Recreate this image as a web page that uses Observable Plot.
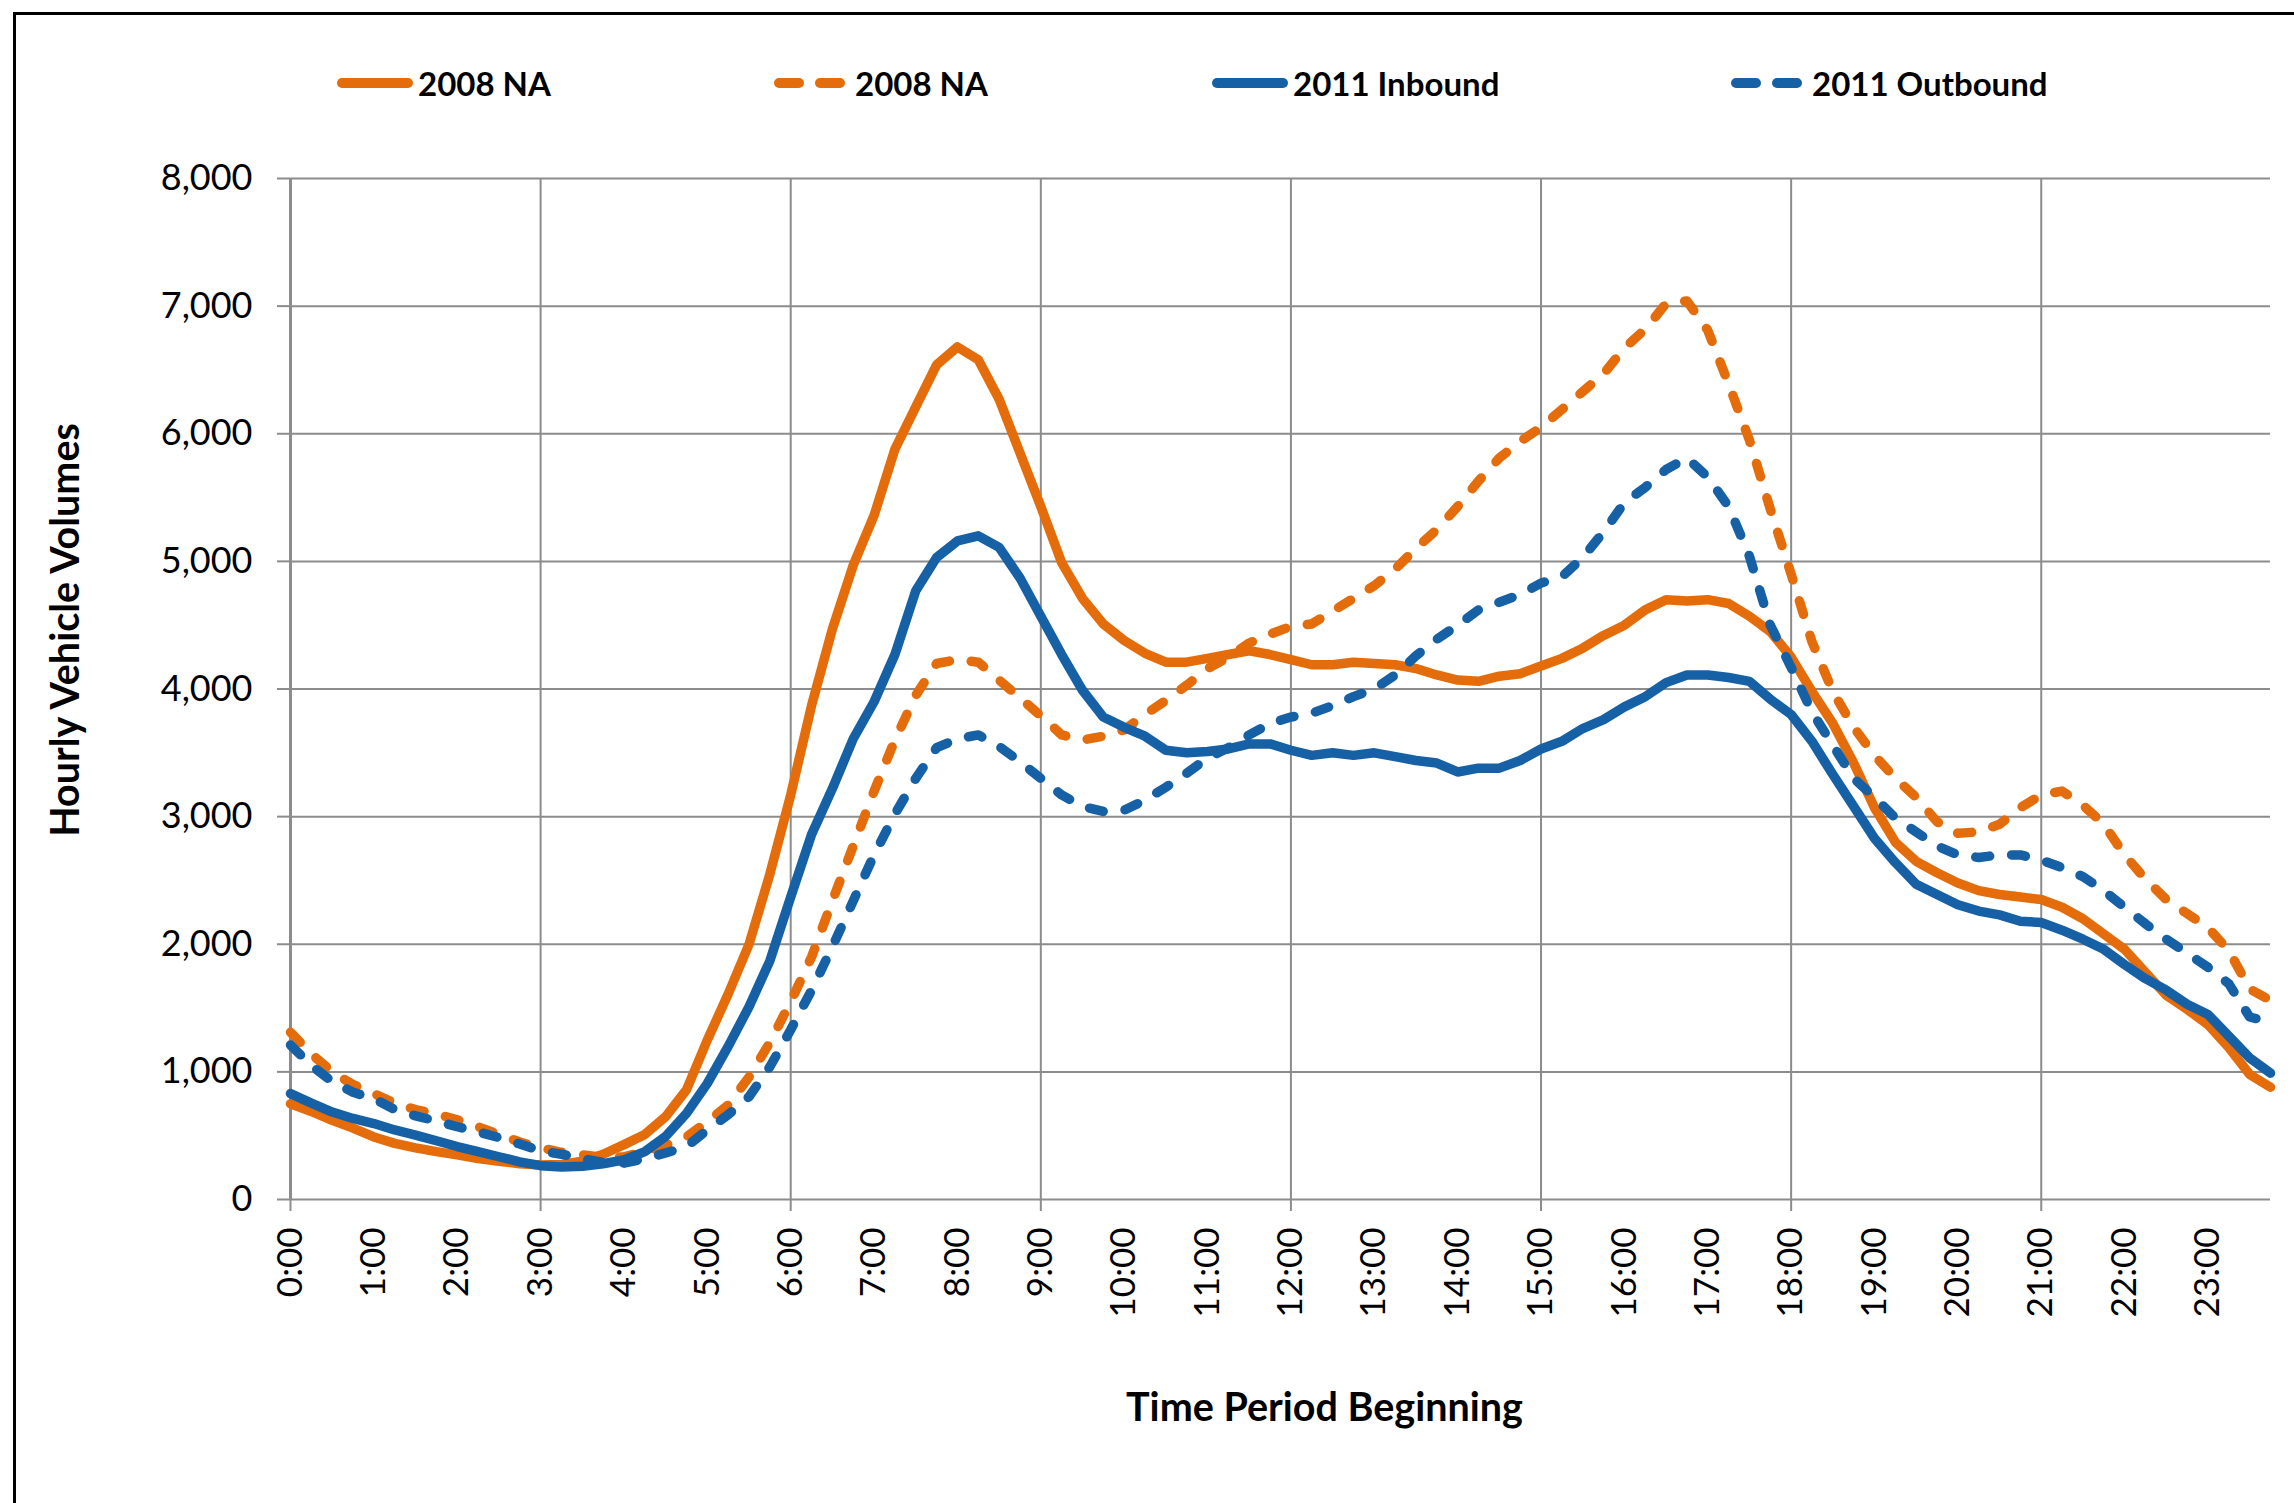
<!DOCTYPE html>
<html><head><meta charset="utf-8">
<script src="https://cdn.jsdelivr.net/npm/d3@7"></script>
<script src="https://cdn.jsdelivr.net/npm/@observablehq/plot@0.6"></script>
<style>
html,body{margin:0;padding:0;background:#fff;}
body{width:2294px;height:1503px;overflow:hidden;position:relative;font-family:Lato,"Open Sans",sans-serif;}
#frame{position:absolute;left:13px;top:12px;width:2400px;height:1600px;border-left:3px solid #000;border-top:3px solid #000;pointer-events:none;z-index:10;}
#legend{position:relative;height:150px;}
.item{position:absolute;top:59px;height:48px;display:flex;align-items:center;font-weight:700;font-size:33px;color:#000;white-space:nowrap;}
.item svg{margin-right:5px;display:block;}
#chart{position:relative;}
</style></head><body>
<div id="frame"></div>
<div id="legend"></div>
<div id="chart"></div>
<script>
// ---- categories & tick labels ----
const hours = [0,1,2,3,4,5,6,7,8,9,10,11,12,13,14,15,16,17,18,19,20,21,22,23];
const quarters = ["00","15","30","45"];
const times = hours.flatMap(h => quarters.map(q => `${h}:${q}`));
const hourLabels = hours.map(h => `${h}:00`);
const gridTimes = ["0:00","3:00","6:00","9:00","12:00","15:00","18:00","21:00"];
const yTicks = [0,1000,2000,3000,4000,5000,6000,7000,8000];
const seriesNames = ["2008 NA","2008 NA","2011 Inbound","2011 Outbound"];

// ---- series values (15-minute periods, 0:00 - 23:45) ----
const na2008Solid = [
  750,690,620,560,490,440,405,375,350,320,300,280,
  270,275,300,355,430,510,650,860,1250,1610,2000,2550,
  3170,3870,4470,4970,5360,5880,6210,6540,6680,6580,6270,5850,
  5430,4990,4710,4510,4380,4280,4210,4210,4240,4270,4300,4270,
  4230,4190,4190,4210,4200,4190,4160,4110,4070,4060,4100,4120,
  4180,4240,4320,4420,4500,4620,4700,4690,4700,4670,4570,4450,
  4250,3980,3730,3420,3070,2800,2650,2560,2480,2420,2390,2370,
  2350,2290,2200,2080,1960,1780,1600,1490,1370,1190,980,880
];
const na2008Dashed = [
  1310,1140,1000,900,830,755,705,670,625,570,510,450,
  405,370,350,330,335,375,425,490,610,740,960,1230,
  1550,1900,2340,2770,3200,3600,3950,4200,4230,4210,4070,3930,
  3790,3640,3600,3630,3680,3800,3910,4030,4160,4250,4360,4430,
  4490,4510,4610,4710,4810,4940,5100,5250,5430,5630,5810,5940,
  6050,6190,6330,6470,6670,6820,7020,7040,6810,6390,5950,5410,
  4900,4370,3980,3700,3480,3300,3150,2960,2870,2880,2940,3070,
  3170,3200,3090,2940,2700,2510,2350,2240,2130,1950,1650,1560
];
const inbound2011 = [
  830,755,685,635,595,545,505,460,415,375,335,295,
  265,255,260,280,310,375,495,675,910,1200,1510,1870,
  2370,2860,3220,3610,3900,4270,4770,5030,5160,5200,5110,4870,
  4570,4270,3990,3780,3700,3630,3520,3500,3510,3530,3570,3570,
  3520,3480,3500,3480,3500,3470,3440,3420,3350,3380,3380,3440,
  3530,3590,3690,3760,3860,3940,4050,4110,4110,4090,4060,3920,
  3800,3590,3330,3080,2830,2640,2470,2390,2310,2260,2230,2180,
  2170,2110,2040,1960,1840,1730,1640,1530,1450,1280,1110,990
];
const outbound2011 = [
  1210,1050,925,840,790,705,655,615,570,530,485,435,
  380,355,320,290,285,320,365,415,545,665,805,1040,
  1330,1640,1980,2340,2700,3020,3300,3540,3610,3640,3550,3430,
  3300,3170,3080,3040,3050,3130,3230,3340,3460,3540,3640,3730,
  3780,3810,3870,3940,4000,4110,4260,4390,4500,4620,4680,4740,
  4830,4880,5030,5230,5460,5580,5720,5810,5660,5430,5040,4500,
  4170,3820,3560,3300,3150,2990,2880,2770,2700,2680,2700,2700,
  2660,2600,2530,2420,2290,2160,2040,1930,1820,1690,1430,1390
];

// ---- styles ----
const ORANGE = "#E46C0A", BLUE = "#1660A6", GRID = "#8c8c8c";
const DASH = "14,22";
const seriesDefs = [
  {values: na2008Solid,  name: seriesNames[0], color: ORANGE, dash: null},
  {values: na2008Dashed, name: seriesNames[1], color: ORANGE, dash: DASH},
  {values: inbound2011,  name: seriesNames[2], color: BLUE,   dash: null},
  {values: outbound2011, name: seriesNames[3], color: BLUE,   dash: DASH}
];

// ---- legend (HTML) ----
const legendLefts = [337, 774, 1212, 1731];
const legend = document.getElementById("legend");
seriesDefs.forEach((s, k) => {
  const it = document.createElement("div");
  it.className = "item";
  it.style.left = legendLefts[k] + "px";
  const dashAttr = s.dash ? ` stroke-dasharray="20,21"` : "";
  it.innerHTML = `<svg width="76" height="20"><line x1="5" x2="71" y1="10" y2="10" stroke="${s.color}" stroke-width="10" stroke-linecap="round"${dashAttr}/></svg><span>${s.name}</span>`;
  legend.appendChild(it);
});

// ---- chart ----
const toRows = (vals) => vals.map((v, i) => ({time: times[i], value: v}));
const lineMarks = seriesDefs.map(s => Plot.line(toRows(s.values), {
  x: "time", y: "value", stroke: s.color, strokeWidth: 9.5,
  strokeDasharray: s.dash || undefined, strokeLinecap: "round", strokeLinejoin: "round"
}));

const chart = Plot.plot({
  width: 2294, height: 1353,
  marginTop: 28, marginBottom: 304, marginLeft: 290, marginRight: 24,
  style: {fontFamily: "Lato, 'Open Sans', sans-serif", fontSize: "35px", color: "#000", background: "#fff", overflow: "visible"},
  x: {type: "point", domain: times, padding: 0},
  y: {domain: [0, 8000]},
  marks: [
    Plot.gridY(yTicks, {stroke: GRID, strokeOpacity: 1, strokeWidth: 2}),
    Plot.gridX(gridTimes, {stroke: GRID, strokeOpacity: 1, strokeWidth: 2}),
    Plot.ruleX(["0:00"], {stroke: GRID, strokeWidth: 3}),
    Plot.axisY(yTicks, {tickSize: 13, tickPadding: 25, tickFormat: d3.format(","), stroke: GRID, strokeWidth: 2, fontSize: 36, label: null}),
    Plot.axisX(gridTimes, {tickSize: 12, fill: "none", stroke: GRID, strokeWidth: 2, label: null}),
    Plot.axisX(hourLabels, {tickSize: 0, tickPadding: 28, tickRotate: -90, fontSize: 35, label: null}),
    ...lineMarks,
    Plot.text(["Hourly Vehicle Volumes"], {frameAnchor: "left", textAnchor: "middle", lineAnchor: "middle", rotate: -90, dx: -224, dy: -59, fontWeight: "bold", fontSize: 39.5, fill: "#000"}),
    Plot.text(["Time Period Beginning"], {frameAnchor: "bottom", textAnchor: "middle", lineAnchor: "middle", dx: 44, dy: 209, fontWeight: "bold", fontSize: 39.5, fill: "#000"})
  ]
});
document.getElementById("chart").appendChild(chart);
</script>
</body></html>
